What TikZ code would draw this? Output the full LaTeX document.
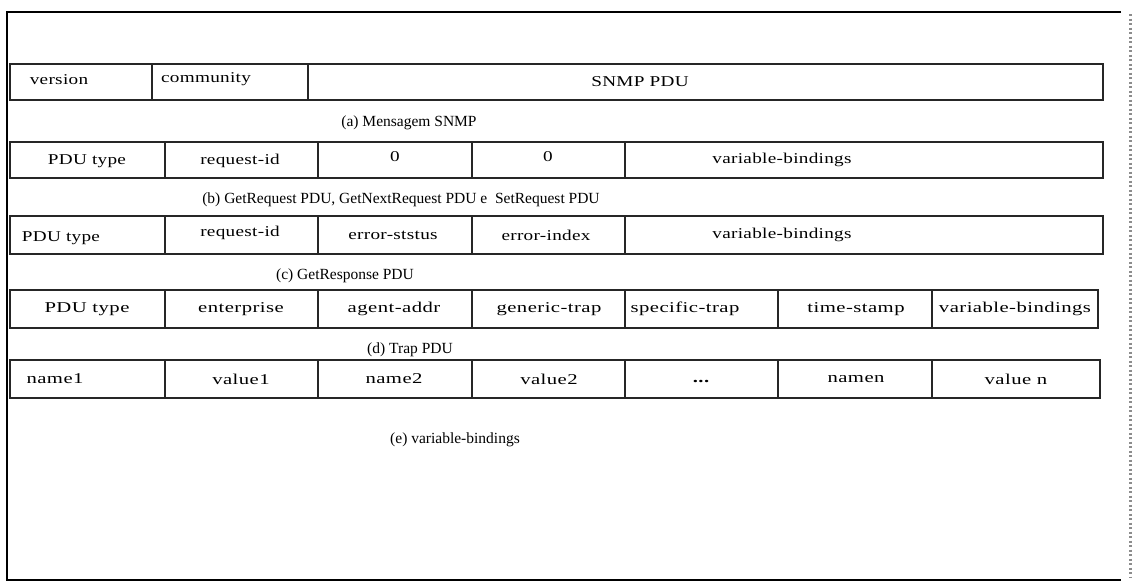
\documentclass[tikz,border=0pt]{standalone}
\usepackage{fontspec}
\setmainfont{Liberation Serif}
\newfontfamily\celula[FakeStretch=1.28, LetterSpace=2]{Liberation Serif}
\newfontfamily\celulalarga[FakeStretch=1.38, LetterSpace=3]{Liberation Serif}
\usepackage{xcolor}
\usetikzlibrary{positioning}

\begin{document}
\begin{tikzpicture}[
  x=1pt, y=-1pt,
  font=\fontsize{15}{17}\selectfont,
  linha/.style={rectangle, draw=black!85, line width=1.3pt,
                inner sep=0pt, minimum height=36pt},
  divisor/.style={draw=black!85, line width=1.3pt},
  rotulo/.style={inner sep=1pt, font=\celula\fontsize{15}{17}\selectfont},
  rotulolargo/.style={inner sep=1pt, font=\celulalarga\fontsize{15}{17}\selectfont},
  legenda/.style={inner sep=1pt, font=\fontsize{15.5}{17}\selectfont},
]
\useasboundingbox (0,0) rectangle (1148,584);

%% --- moldura ---
\draw[line width=2.4pt] (1121,12) -- (7,12) -- (7,580) -- (1121,580);
\draw[black!45, line width=3pt, dash pattern=on 2pt off 2.5pt] (1130,14) -- (1130,578);

%% --- (a) mensagem SNMP ---
\node[linha, minimum width=1093pt] (msg) at (556.5,82) {};
\draw[divisor] (152,0 |- msg.north) -- (152,0 |- msg.south);
\draw[divisor] (308,0 |- msg.north) -- (308,0 |- msg.south);
\node[rotulo] (tversao) at (59,80) {version};
\node[rotulo] (tcomunid) at (206,79) {community};
\node[rotulo] (tsnmppdu) at (640,82) {SNMP PDU};
\node[legenda] (lega) at (409,123) {(a) Mensagem SNMP};

%% --- (b) GetRequest / GetNextRequest / SetRequest ---
\node[linha, minimum width=1093pt] (getreq) at (556.5,160) {};
\draw[divisor] (165,0 |- getreq.north) -- (165,0 |- getreq.south);
\draw[divisor] (318,0 |- getreq.north) -- (318,0 |- getreq.south);
\draw[divisor] (472,0 |- getreq.north) -- (472,0 |- getreq.south);
\draw[divisor] (625,0 |- getreq.north) -- (625,0 |- getreq.south);
\node[rotulo] (tbtipo) at (87,161) {PDU type};
\node[rotulo] (tbreqid) at (240,161) {request-id};
\node[rotulo] (tbzero1) at (395,157) {0};
\node[rotulo] (tbzero2) at (548,157) {0};
\node[rotulo] (tbvarb) at (782,160) {variable-bindings};
\node[legenda] (legb) at (401,200) {(b) GetRequest PDU, GetNextRequest PDU e\ \ SetRequest PDU};

%% --- (c) GetResponse ---
\node[linha, minimum width=1093pt, minimum height=38pt] (getresp) at (556.5,235) {};
\draw[divisor] (165,0 |- getresp.north) -- (165,0 |- getresp.south);
\draw[divisor] (318,0 |- getresp.north) -- (318,0 |- getresp.south);
\draw[divisor] (472,0 |- getresp.north) -- (472,0 |- getresp.south);
\draw[divisor] (625,0 |- getresp.north) -- (625,0 |- getresp.south);
\node[rotulo] (tctipo) at (61,238) {PDU type};
\node[rotulo] (tcreqid) at (240,233) {request-id};
\node[rotulo] (tcstatus) at (393,235) {error-ststus};
\node[rotulo] (tcindex) at (546,235) {error-index};
\node[rotulo] (tcvarb) at (782,235) {variable-bindings};
\node[legenda] (legc) at (345,276) {(c) GetResponse PDU};

%% --- (d) Trap ---
\node[linha, minimum width=1088pt, minimum height=38pt] (trap) at (554,309) {};
\draw[divisor] (165,0 |- trap.north) -- (165,0 |- trap.south);
\draw[divisor] (318,0 |- trap.north) -- (318,0 |- trap.south);
\draw[divisor] (472,0 |- trap.north) -- (472,0 |- trap.south);
\draw[divisor] (625,0 |- trap.north) -- (625,0 |- trap.south);
\draw[divisor] (778,0 |- trap.north) -- (778,0 |- trap.south);
\draw[divisor] (932,0 |- trap.north) -- (932,0 |- trap.south);
\node[rotulolargo] (tdtipo) at (87,309) {PDU type};
\node[rotulolargo] (tdenterp) at (241,309) {enterprise};
\node[rotulolargo] (tdagente) at (394,309) {agent-addr};
\node[rotulolargo] (tdgeneric) at (549,309) {generic-trap};
\node[rotulolargo] (tdspecif) at (685,309) {specific-trap};
\node[rotulolargo] (tdtempo) at (856,309) {time-stamp};
\node[rotulolargo] (tdvarb) at (1015,309) {variable-bindings};
\node[legenda] (legd) at (410,350) {(d) Trap PDU};

%% --- (e) variable-bindings ---
\node[linha, minimum width=1090pt, minimum height=38pt] (varbind) at (555,379) {};
\draw[divisor] (165,0 |- varbind.north) -- (165,0 |- varbind.south);
\draw[divisor] (318,0 |- varbind.north) -- (318,0 |- varbind.south);
\draw[divisor] (472,0 |- varbind.north) -- (472,0 |- varbind.south);
\draw[divisor] (625,0 |- varbind.north) -- (625,0 |- varbind.south);
\draw[divisor] (778,0 |- varbind.north) -- (778,0 |- varbind.south);
\draw[divisor] (932,0 |- varbind.north) -- (932,0 |- varbind.south);
\node[rotulolargo] (tenome1) at (55,379) {name1};
\node[rotulolargo] (tevalor1) at (241,379) {value1};
\node[rotulolargo] (tenome2) at (394,379) {name2};
\node[rotulolargo] (tevalor2) at (549,379) {value2};
\node[rotulolargo, font=\celulalarga\fontsize{15}{17}\selectfont\bfseries] (tedots) at (701,381) {...};
\node[rotulolargo] (tenomen) at (856,379) {namen};
\node[rotulolargo] (tevalorn) at (1016,379) {value n};
\node[legenda] (lege) at (455,440) {(e) variable-bindings};
\end{tikzpicture}
\end{document}
